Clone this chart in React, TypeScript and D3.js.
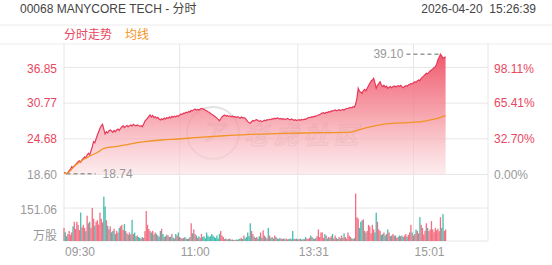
import React from 'react';
import * as d3 from 'd3';

// ---------- data ----------
const prevClose = 18.6;

// per-minute last price (index 0 = 09:30)
const prices = [
  19.00, 18.85, 18.74, 18.90, 19.20, 19.45, 19.93, 19.80, 20.05, 20.30,
  20.55, 20.78, 20.95, 20.70, 21.10, 21.35, 21.60, 21.45, 21.92, 22.21,
  21.95, 22.60, 23.30, 24.19, 24.00, 24.70, 25.33, 25.90, 26.47, 26.90,
  27.15, 26.30, 25.50, 25.89, 25.70, 26.05, 26.18, 26.00, 25.80, 26.10,
  25.89, 26.20, 26.35, 26.10, 26.47, 26.70, 26.91, 26.60, 26.80, 26.95,
  26.74, 26.90, 27.05, 26.85, 27.15, 27.00, 26.90, 27.05, 26.95, 26.80,
  26.90, 26.74, 27.20, 27.70, 27.95, 28.18, 28.50, 28.74, 28.40, 28.65,
  28.30, 28.45, 28.20, 28.35, 28.05, 27.89, 28.10, 27.95, 28.20, 28.05,
  28.30, 28.18, 28.40, 28.25, 28.50, 28.35, 28.55, 28.45, 28.62, 28.50,
  28.75, 28.90, 28.80, 29.05, 29.03, 29.20, 29.10, 29.35, 29.25, 29.50,
  29.45, 29.65, 29.76, 29.60, 29.70, 29.59, 29.75, 29.88, 29.80, 29.70,
  29.55, 29.47, 29.30, 29.20, 29.00, 28.85, 28.74, 28.55, 28.40, 28.20,
  28.00, 27.77, 28.10, 28.40, 28.60, 28.74, 28.55, 28.65, 28.50, 28.60,
  28.45, 28.57, 28.40, 28.50, 28.30, 28.45, 28.35, 28.20, 28.40, 28.25,
  28.30, 28.18, 27.90, 27.60, 27.45, 27.32, 27.60, 27.80, 27.70, 27.89,
  27.95, 27.80, 27.65, 27.75, 27.60, 27.70, 27.85, 27.75, 27.95, 27.89,
  28.00, 27.95, 28.10, 28.05, 28.20, 28.10, 28.25, 28.18, 28.05, 28.15,
  28.00, 28.10, 27.95, 28.05, 28.15, 28.01, 27.90, 28.05, 27.95, 27.85,
  27.95, 27.80, 27.89, 27.95, 27.85, 28.00, 27.90, 28.05, 28.01, 28.15,
  28.25, 28.35, 28.30, 28.45, 28.40, 28.55, 28.50, 28.65, 28.74, 28.80,
  28.95, 29.05, 29.13, 29.00, 29.20, 29.15, 29.30, 29.25, 29.45, 29.40,
  29.50, 29.59, 29.45, 29.55, 29.65, 29.50, 29.59, 29.70, 29.60, 29.75,
  29.85, 29.88, 29.95, 30.05, 29.95, 30.15, 30.05, 30.60, 31.58, 33.29,
  32.80, 32.60, 32.44, 32.90, 33.10, 32.85, 33.29, 33.70, 34.14, 34.50,
  34.70, 35.00, 34.20, 33.29, 33.80, 34.10, 34.41, 33.90, 33.56, 33.80,
  33.50, 33.65, 33.29, 33.45, 33.60, 33.40, 33.56, 33.70, 33.50, 33.65,
  33.73, 33.60, 33.80, 33.55, 33.39, 33.60, 33.75, 33.65, 33.85, 33.95,
  34.10, 34.05, 34.25, 34.41, 34.30, 34.55, 34.70, 34.60, 34.99, 35.20,
  35.40, 35.60, 35.84, 35.75, 36.00, 36.25, 36.41, 36.60, 36.80, 36.97,
  37.40, 38.11, 38.60, 39.10, 38.80, 38.40, 38.55, 38.67,
];

// per-minute volume (万股)
const volumes = [
  60, 40, 22, 32, 46, 28, 39, 67, 88, 55,
  88, 74, 50, 130, 62, 74, 60, 45, 116, 81,
  88, 60, 151, 102, 70, 88, 95, 75, 130, 102,
  85, 203, 158, 95, 70, 53, 67, 40, 46, 56,
  32, 46, 38, 60, 67, 74, 50, 77, 46, 35,
  29, 39, 30, 97, 32, 39, 22, 25, 18, 15,
  11, 18, 14, 45, 137, 74, 55, 46, 39, 46,
  30, 39, 32, 25, 20, 46, 56, 32, 18, 22,
  29, 25, 18, 20, 32, 15, 11, 32, 25, 39,
  18, 14, 11, 14, 18, 12, 9, 11, 18, 81,
  35, 53, 32, 25, 15, 21, 14, 32, 18, 22,
  12, 39, 25, 18, 22, 32, 25, 18, 14, 25,
  11, 32, 46, 25, 18, 9, 11, 7, 9, 11,
  6, 7, 5, 4, 7, 5, 9, 11, 14, 9,
  25, 12, 18, 39, 22, 81, 46, 32, 20, 14,
  18, 11, 22, 39, 15, 49, 25, 18, 11, 60,
  25, 14, 18, 11, 25, 18, 12, 9, 14, 11,
  9, 12, 8, 11, 7, 9, 12, 8, 46, 11,
  9, 11, 7, 9, 11, 6, 9, 8, 18, 11,
  9, 14, 25, 18, 12, 9, 14, 22, 53, 18,
  39, 39, 14, 32, 25, 11, 18, 14, 22, 32,
  11, 25, 14, 9, 18, 12, 25, 14, 35, 18,
  11, 39, 25, 18, 12, 9, 14, 217, 109, 102,
  60, 88, 95, 99, 46, 39, 46, 74, 67, 35,
  74, 53, 39, 130, 88, 53, 46, 28, 32, 39,
  25, 32, 53, 39, 22, 25, 32, 25, 25, 15,
  18, 25, 22, 25, 18, 25, 32, 20, 28, 39,
  74, 39, 25, 32, 53, 46, 35, 109, 74, 60,
  30, 46, 81, 60, 45, 53, 91, 53, 40, 60,
  49, 56, 45, 109, 60, 123, 46, 53,
];

// average price line, read at these minute indexes
const avgIdx = [0, 2, 9, 19, 27, 31, 40, 50, 63, 76, 89, 102, 125, 145, 170, 200, 223, 230, 240, 248, 262, 276, 286, 292, 297];
const avgVal = [18.85, 18.78, 20.22, 21.63, 22.48, 23.06, 23.34, 23.75, 24.19, 24.48, 24.65, 24.87, 25.20, 25.45, 25.60, 25.72, 25.82, 26.25, 26.80, 27.15, 27.40, 27.55, 27.95, 28.25, 28.62];

const priceTicks = [18.6, 24.68, 30.77, 36.85];
const priceTickLabels = ['18.60', '24.68', '30.77', '36.85'];
const pctTickLabels = ['0.00%', '32.70%', '65.41%', '98.11%'];
const volTickValues = [0, 151.06];
const volTickLabels = ['万股', '151.06'];
const timeLabels = ['09:30', '11:00', '13:31', '15:01'];
const timeIdx = [0, 90, 182, 272];
const totalSlots = 330;

const title = '00068 MANYCORE TECH - 分时';
const stamp = '2026-04-20  15:26:39';
const legendPrice = '分时走势';
const legendAvg = '均线';

// ---------- style ----------
const W = 552;
const H = 265;
const FONT = '"Liberation Sans", Arial, "Noto Sans CJK SC", sans-serif';
const RED = '#e9475e';
const LINE_RED = '#e8385a';
const ORANGE = '#f29425';
const GRAY = '#999';
const GRID = '#e6e6e6';
const VOL_UP = '#f0566e';
const VOL_DOWN = '#25b3a2';

export default function App() {
  const left = 64;
  const right = 488;
  const panelTop = 44;
  const x = d3.scaleLinear().domain([0, totalSlots]).range([left, right]);
  const yP = d3.scaleLinear().domain([18.6, 36.85]).range([174.5, 67.4]);
  const yV = d3.scaleLinear().domain([0, 302.12]).range([241, 175]);

  const line = d3.line<number>().x((_, i) => x(i)).y((d) => yP(d));
  const area = d3
    .area<number>()
    .x((_, i) => x(i))
    .y0(yP(prevClose))
    .y1((d) => yP(d));
  const avgLine = d3
    .line<number>()
    .x((d) => x(d))
    .y((_, i) => yP(avgVal[i]))
    .curve(d3.curveMonotoneX);

  const hi = d3.max(prices) as number;
  const lo = d3.min(prices) as number;
  const hiIdx = prices.indexOf(hi);
  const loIdx = prices.indexOf(lo);

  const barW = 1.3;

  return (
    <svg
      width={W}
      height={H}
      style={{ position: 'absolute', left: 0, top: 0, background: '#fff', fontFamily: FONT }}
    >
      <defs>
        <linearGradient id="pfill" gradientUnits="userSpaceOnUse" x1="0" x2="0" y1={yP(hi)} y2={yP(prevClose)}>
          <stop offset="0" stopColor="#ef5064" stopOpacity="0.95" />
          <stop offset="0.5" stopColor="#f58f9a" stopOpacity="0.8" />
          <stop offset="1" stopColor="#fbdfe2" stopOpacity="0.6" />
        </linearGradient>
      </defs>

      {/* title row */}
      <text x={20} y={13} fontSize={12} fill="#444">{title}</text>
      <text x={536} y={13} fontSize={12} fill="#444" textAnchor="end" style={{ whiteSpace: 'pre' }}>{stamp}</text>

      {/* header band */}
      <line x1={0} x2={W} y1={25} y2={25} stroke="#ececec" />
      <line x1={0} x2={W} y1={panelTop} y2={panelTop} stroke="#ececec" />
      <text x={left} y={34.5} fontSize={12} fill={RED} dominantBaseline="central">{legendPrice}</text>
      <text x={left + 61} y={34.5} fontSize={12} fill={ORANGE} dominantBaseline="central">{legendAvg}</text>

      {/* grid */}
      {priceTicks.map((t) => (
        <line key={'pg' + t} x1={left} x2={right} y1={yP(t)} y2={yP(t)} stroke={GRID} />
      ))}
      {volTickValues.map((t) => (
        <line key={'vg' + t} x1={left} x2={right} y1={yV(t)} y2={yV(t)} stroke={GRID} />
      ))}
      {timeIdx.map((t) => (
        <line key={'tg' + t} x1={x(t)} x2={x(t)} y1={panelTop} y2={yV(0)} stroke={GRID} />
      ))}
      <line x1={right} x2={right} y1={panelTop} y2={yV(0)} stroke={GRID} />

      {/* watermark */}
      <g opacity={0.35}>
        <circle cx={213} cy={133} r={26} fill="none" stroke="#b0b0b0" strokeWidth={2} />
        <text x={213} y={141} fontSize={24} fontStyle="italic" fill="none" stroke="#a8a8a8" strokeWidth={1.2} textAnchor="middle">ア</text>
        <text x={244} y={144} fontSize={24} fontStyle="italic" fontWeight="bold" fill="none" stroke="#a0a0a0" strokeWidth={1.2} letterSpacing={6}>老虎社区</text>
      </g>

      {/* price area + line */}
      <path d={area(prices) || ''} fill="url(#pfill)" />
      <path d={line(prices) || ''} fill="none" stroke={LINE_RED} strokeWidth={1.2} />
      <path d={avgLine(avgIdx) || ''} fill="none" stroke={ORANGE} strokeWidth={1.3} />

      {/* high / low markers */}
      <line x1={x(hiIdx) - 34} x2={x(hiIdx)} y1={yP(hi)} y2={yP(hi)} stroke={GRAY} strokeWidth={1.5} strokeDasharray="4,3" />
      <text x={x(hiIdx) - 37} y={yP(hi)} fontSize={12} fill={GRAY} textAnchor="end" dominantBaseline="central">{hi.toFixed(2)}</text>
      <line x1={x(loIdx)} x2={x(loIdx) + 29} y1={yP(lo)} y2={yP(lo)} stroke={GRAY} strokeWidth={1.5} strokeDasharray="4,3" />
      <text x={x(loIdx) + 36} y={yP(lo) + 0.5} fontSize={12} fill={GRAY} dominantBaseline="central">{lo.toFixed(2)}</text>

      {/* volume bars */}
      {volumes.map((v, i) => {
        const up = i === 0 ? prices[0] >= prevClose : prices[i] >= prices[i - 1];
        return (
          <rect
            key={'v' + i}
            x={x(i) - barW / 2}
            y={yV(v)}
            width={barW}
            height={yV(0) - yV(v)}
            fill={up ? VOL_UP : VOL_DOWN}
            opacity={0.85}
          />
        );
      })}

      {/* left price labels */}
      {priceTicks.map((t, i) => (
        <text
          key={'pl' + t}
          x={57}
          y={yP(t) + (i === priceTicks.length - 1 ? 2 : 0)}
          fontSize={12}
          fill={i === 0 ? GRAY : RED}
          textAnchor="end"
          dominantBaseline="central"
        >
          {priceTickLabels[i]}
        </text>
      ))}
      {/* right percent labels */}
      {priceTicks.map((t, i) => (
        <text
          key={'pr' + t}
          x={494}
          y={yP(t) + (i === priceTicks.length - 1 ? 2 : 0)}
          fontSize={12}
          fill={i === 0 ? GRAY : RED}
          dominantBaseline="central"
        >
          {pctTickLabels[i]}
        </text>
      ))}
      {/* volume labels */}
      {volTickValues.map((t, i) => (
        <text
          key={'vl' + t}
          x={57}
          y={yV(t) + (i === 0 ? -5 : 2)}
          fontSize={12}
          fill={GRAY}
          textAnchor="end"
          dominantBaseline="central"
        >
          {volTickLabels[i]}
        </text>
      ))}
      {/* time labels */}
      {timeIdx.map((t, i) => (
        <text key={'tl' + t} x={x(t) + 1} y={252} fontSize={12} fill={GRAY} dominantBaseline="central">
          {timeLabels[i]}
        </text>
      ))}
    </svg>
  );
}
